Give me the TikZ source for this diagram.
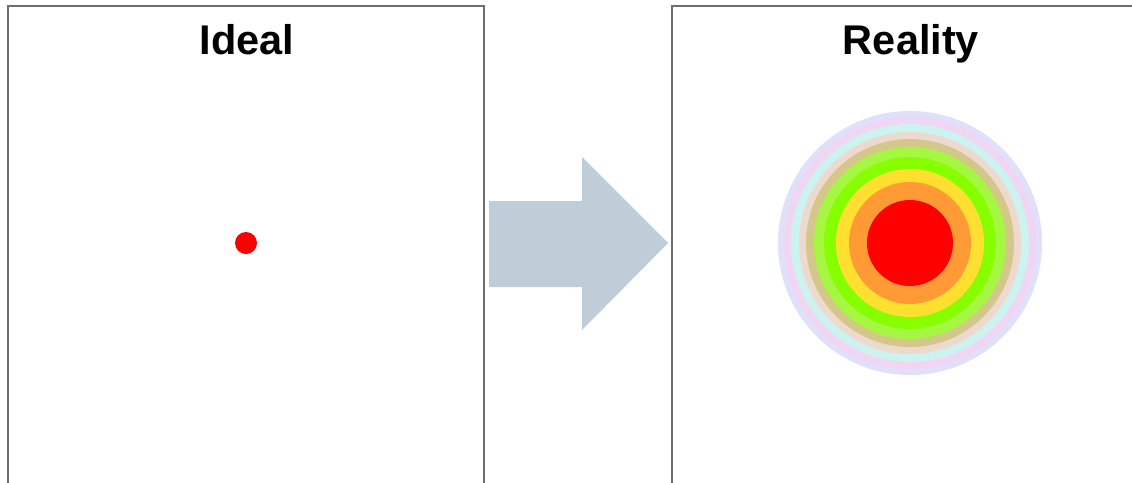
\documentclass[tikz,border=0pt]{standalone}
\usepackage{fontspec}
\setmainfont{Liberation Sans}
\definecolor{framegrey}{HTML}{6E6E6E}
\definecolor{arrowblue}{HTML}{BFCDD9}
\definecolor{ringlav}{HTML}{E0E0FA}
\definecolor{ringpink}{HTML}{F0D6F2}
\definecolor{ringcyan}{HTML}{CDF3F1}
\definecolor{ringpeach}{HTML}{EDD9CE}
\definecolor{ringkhaki}{HTML}{D3C88A}
\definecolor{ringlime}{HTML}{A6F742}
\definecolor{ringgreen}{HTML}{88FF00}
\definecolor{ringyellow}{HTML}{FFE030}
\definecolor{ringorange}{HTML}{FF9A35}
\definecolor{ringred}{HTML}{FF0000}
\tikzset{
  panel/.style={draw=framegrey, line width=1.3pt},
  heading/.style={font=\fontsize{41.5}{41.5}\selectfont\bfseries, anchor=base}
}
\begin{document}
\begin{tikzpicture}[x=1pt, y=-1pt]
  \useasboundingbox (0, 0) rectangle (1132, 482);
  % panels, open at the bottom (and at the right for the second one)
  \draw[panel] (8, 490) -- (8, 6) -- (484, 6) -- (484, 490);
  \draw[panel] (672, 490) -- (672, 6) -- (1140, 6);
  \node[heading] (ideal) at (247, 54) {Ideal};
  \node[heading] (reality) at (911, 54) {Reality};
  % ideal: one point
  \fill[ringred] (246, 243) circle (11);
  % big arrow between the panels
  \fill[arrowblue] (489, 201) -- (582, 201) -- (582, 157) -- (668, 243)
    -- (582, 330) -- (582, 287) -- (489, 287) -- cycle;
  % reality: blurred spot
  \foreach \r/\c in {132/ringlav, 126/ringpink, 119/ringcyan, 111/ringpeach,
                     104/ringkhaki, 96/ringlime, 86/ringgreen, 74/ringyellow,
                     61/ringorange, 43/ringred}
    \fill[\c] (910, 243) circle (\r);
\end{tikzpicture}
\end{document}
